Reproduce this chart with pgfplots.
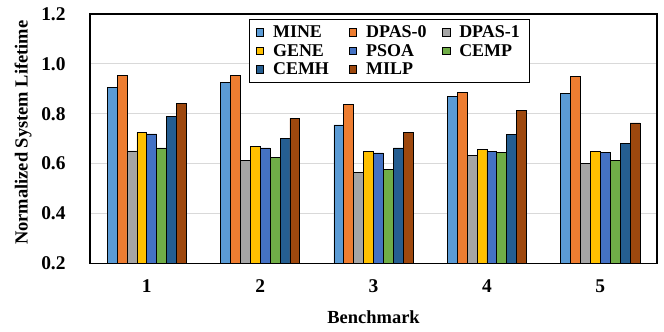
\documentclass[border=0pt]{standalone}
\usepackage{pgfplots}
\pgfplotsset{compat=1.18}
\usepackage{fontspec}
\setmainfont{Liberation Serif}
\definecolor{cMINE}{HTML}{5B9BD5}
\definecolor{cDPASa}{HTML}{ED7D31}
\definecolor{cDPASb}{HTML}{A5A5A5}
\definecolor{cGENE}{HTML}{FFC000}
\definecolor{cPSOA}{HTML}{4472C4}
\definecolor{cCEMP}{HTML}{70AD47}
\definecolor{cCEMH}{HTML}{255E91}
\definecolor{cMILP}{HTML}{9E480E}
\newcommand{\lgent}[1]{\makebox[62bp][l]{#1}}
\begin{document}
\begin{tikzpicture}
\begin{axis}[
  scale only axis, width=566bp, height=249bp,
  ybar=0pt, bar width=9.9bp,
  xmin=0.5, xmax=5.5, ymin=0.2, ymax=1.2,
  xtick={1,2,3,4,5}, ytick={0.2,0.4,0.6,0.8,1.0,1.2},
  /pgf/number format/assume math mode=true,
  yticklabel style={/pgf/number format/fixed,/pgf/number format/fixed zerofill,/pgf/number format/precision=1, xshift=-21bp},
  tick label style={font=\fontsize{19.5}{22}\selectfont\bfseries},
  xticklabel style={yshift=-13bp},
  ymajorgrids, grid style={color=black!15, line width=0.8pt},
  major tick length=0pt,
  axis line style={line width=1.4pt},
  xlabel={Benchmark}, ylabel={Normalized System Lifetime},
  xlabel style={font=\fontsize{18.5}{20}\selectfont\bfseries, at={([yshift=-60bp]rel axis cs:0.5,0)}, anchor=base},
  ylabel style={font=\fontsize{18.5}{20}\selectfont\bfseries, at={([xshift=-67bp,yshift=6bp]rel axis cs:0,0.5)}, anchor=center},
  every axis plot/.append style={draw=black, line width=0.8pt},
  legend columns=3,
  legend cell align=left,
  legend style={at={(0.281,0.98)}, anchor=north west, draw=black, line width=0.9pt,
    font=\fontsize{18}{20}\selectfont\bfseries, inner xsep=6bp, inner ysep=4bp,
    row sep=1.3bp,
    /tikz/every odd column/.append style={column sep=7bp},
    /tikz/every even column/.append style={column sep=11.8bp}},
  legend image code/.code={\draw[#1, line width=0.7pt] (0pt,-3.8pt) rectangle (7.5pt,3.8pt);},
]
\addplot[fill=cMINE] coordinates {(1,0.906) (2,0.926) (3,0.755) (4,0.868) (5,0.880)};
\addplot[fill=cDPASa] coordinates {(1,0.955) (2,0.955) (3,0.837) (4,0.887) (5,0.950)};
\addplot[fill=cDPASb] coordinates {(1,0.651) (2,0.612) (3,0.563) (4,0.632) (5,0.600)};
\addplot[fill=cGENE] coordinates {(1,0.725) (2,0.670) (3,0.650) (4,0.657) (5,0.650)};
\addplot[fill=cPSOA] coordinates {(1,0.719) (2,0.663) (3,0.643) (4,0.650) (5,0.644)};
\addplot[fill=cCEMP] coordinates {(1,0.663) (2,0.626) (3,0.575) (4,0.644) (5,0.612)};
\addplot[fill=cCEMH] coordinates {(1,0.788) (2,0.701) (3,0.663) (4,0.718) (5,0.682)};
\addplot[fill=cMILP] coordinates {(1,0.843) (2,0.782) (3,0.725) (4,0.813) (5,0.763)};
\legend{\lgent{MINE},\lgent{DPAS-0},\lgent{DPAS-1},\lgent{GENE},\lgent{PSOA},\lgent{CEMP},\lgent{CEMH},\lgent{MILP}}
\coordinate (SWC) at (rel axis cs:0,0);
\coordinate (NEC) at (rel axis cs:1,1);
\end{axis}
\path[draw=none] ([xshift=-90bp,yshift=-68bp]SWC) rectangle ([xshift=7bp,yshift=14bp]NEC);
\end{tikzpicture}
\end{document}
